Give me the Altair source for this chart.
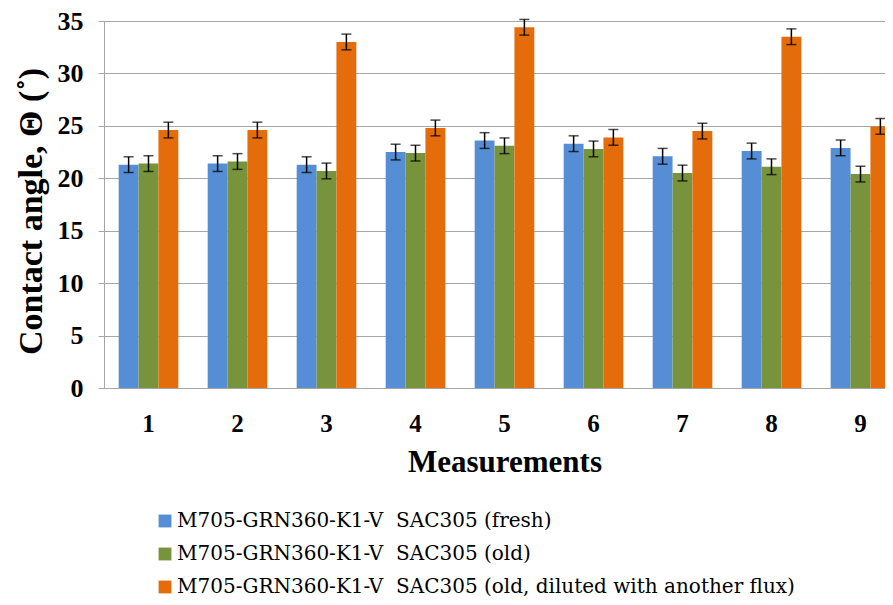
import altair as alt
import pandas as pd

measurements = ["1", "2", "3", "4", "5", "6", "7", "8", "9"]
series_names = [
    "M705-GRN360-K1-V\u00a0 SAC305 (fresh)",
    "M705-GRN360-K1-V\u00a0 SAC305 (old)",
    "M705-GRN360-K1-V\u00a0 SAC305 (old, diluted with another flux)",
]
fresh = [21.3, 21.4, 21.3, 22.5, 23.6, 23.3, 22.1, 22.6, 22.9]
old = [21.4, 21.6, 20.7, 22.4, 23.1, 22.8, 20.5, 21.1, 20.4]
diluted = [24.6, 24.6, 33.0, 24.8, 34.4, 23.9, 24.5, 33.5, 24.95]
err_fresh = [0.75] * 9
err_old = [0.75] * 9
err_diluted = [0.75] * 9
colors = ["#558ED5", "#77933C", "#E46C0A"]
y_ticks = [0, 5, 10, 15, 20, 25, 30, 35]

rows = []
for name, vals, errs in zip(series_names, [fresh, old, diluted], [err_fresh, err_old, err_diluted]):
    for m, v, e in zip(measurements, vals, errs):
        rows.append({"Measurement": m, "Series": name, "Value": v, "Err": e})
df = pd.DataFrame(rows)

FONT = "Liberation Serif"
LFONT = "DejaVu Serif"

x_enc = alt.X(
    "Measurement:N",
    sort=measurements,
    scale=alt.Scale(range=[0, 801], paddingInner=0.33, paddingOuter=0.165),
    axis=alt.Axis(
        title="Measurements",
        labelAngle=0,
        labelFont=FONT,
        labelFontSize=25,
        labelFontWeight="bold",
        labelColor="black",
        labelBaseline="alphabetic",
        labelPadding=43,
        ticks=False,
        tickSize=0,
        domainColor="#A6A6A6",
        domainWidth=1,
        titleFont=FONT,
        titleFontSize=31,
        titleFontWeight="bold",
        titleColor="black",
        titleBaseline="alphabetic",
        titleX=400.5,
        titleY=83,
        titleAlign="center",
    ),
)
xoff = alt.XOffset("Series:N", sort=series_names)

base = alt.Chart(df)

bars = base.mark_bar().encode(
    x=x_enc,
    xOffset=xoff,
    y=alt.Y(
        "Value:Q",
        scale=alt.Scale(domain=[0, 35], nice=False),
        axis=alt.Axis(
            title="Contact angle, Θ (˚)",
            values=y_ticks,
            grid=True,
            gridColor="#A6A6A6",
            gridWidth=1,
            domainColor="#A6A6A6",
            tickColor="#A6A6A6",
            tickSize=6,
            labelFont=FONT,
            labelFontSize=26,
            labelFontWeight="bold",
            labelColor="black",
            labelPadding=15,
            titleFont=FONT,
            titleFontSize=34,
            titleFontWeight="bold",
            titleColor="black",
            titleAngle=-90,
            titleBaseline="alphabetic",
            titleAlign="center",
            titleX=-63,
            titleY=190,
        ),
    ),
    color=alt.Color(
        "Series:N",
        sort=series_names,
        scale=alt.Scale(domain=series_names, range=colors),
        legend=alt.Legend(
            title=None,
            orient="none",
            legendX=51,
            legendY=490,
            direction="vertical",
            symbolType="square",
            symbolSize=165,
            symbolStrokeWidth=0,
            labelFont=LFONT,
            labelFontSize=20,
            labelFontWeight="normal",
            labelColor="black",
            labelLimit=800,
            rowPadding=13,
            labelOffset=2,
        ),
    ),
)

err = base.transform_calculate(
    lo="datum.Value - datum.Err", hi="datum.Value + datum.Err"
)

rules = err.mark_rule(color="black", strokeWidth=1.5).encode(
    x=alt.X("Measurement:N", sort=measurements),
    xOffset=xoff,
    y=alt.Y("lo:Q"),
    y2="hi:Q",
)
caps_lo = err.mark_tick(color="black", thickness=1.5, size=10, orient="horizontal").encode(
    x=alt.X("Measurement:N", sort=measurements),
    xOffset=xoff,
    y=alt.Y("lo:Q"),
)
caps_hi = err.mark_tick(color="black", thickness=1.5, size=10, orient="horizontal").encode(
    x=alt.X("Measurement:N", sort=measurements),
    xOffset=xoff,
    y=alt.Y("hi:Q"),
)

chart = (
    alt.layer(bars, rules, caps_lo, caps_hi)
    .properties(
        width=781,
        height=367,
        autosize=alt.AutoSizeParams(type="none"),
        padding={"left": 96, "top": 13, "right": 0, "bottom": 209},
        background="white",
    )
    .configure_view(strokeWidth=0)
)

chart.save("out.html", embed_options={"renderer": "svg", "actions": False})
